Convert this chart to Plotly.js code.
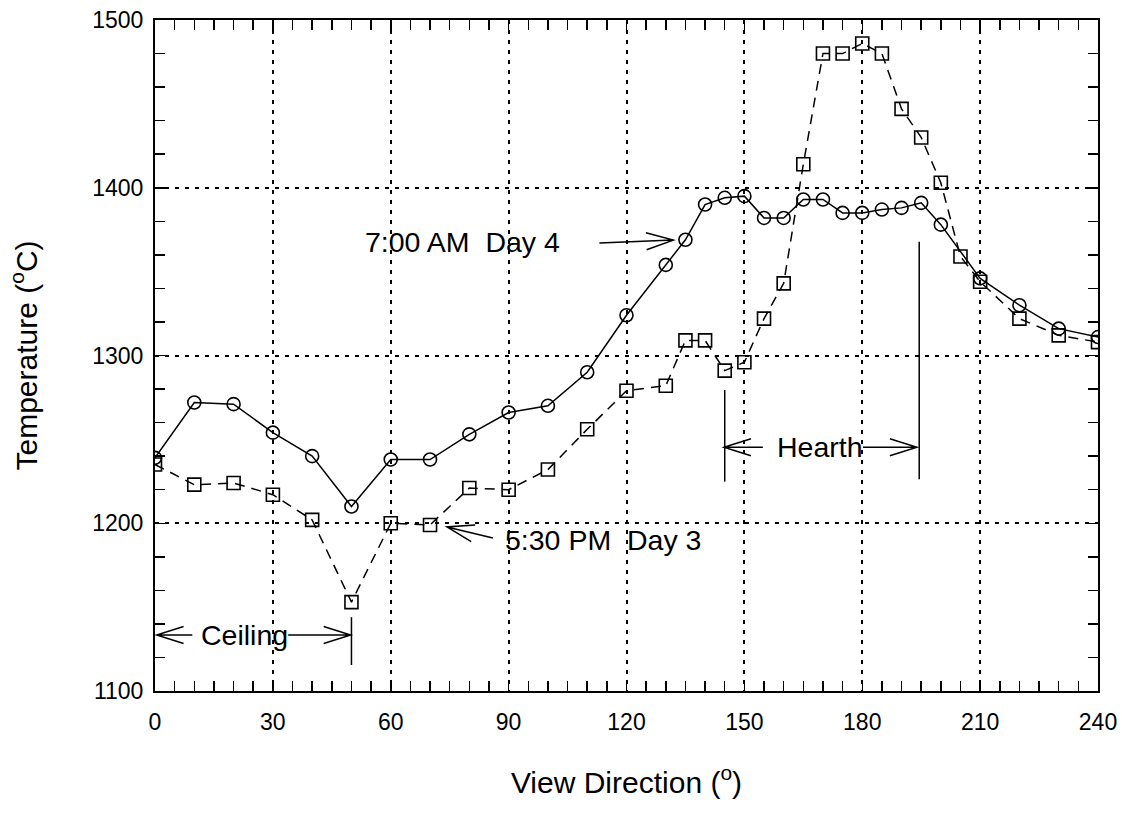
<!DOCTYPE html>
<html>
<head>
<meta charset="utf-8">
<script src="https://cdn.plot.ly/plotly-3.0.1.min.js"></script>
<style>html,body{margin:0;padding:0;background:#fff;}#chart{width:1122px;height:813px;}</style>
</head>
<body>
<div id="chart"></div>
<script>
// ---- data ----
const xDay4 = [0,10,20,30,40,50,60,70,80,90,100,110,120,130,135,140,145,150,155,160,165,170,175,180,185,190,195,200,210,220,230,240];
const tempDay4 = [1239,1272,1271,1254,1240,1210,1238,1238,1253,1266,1270,1290,1324,1354,1369,1390,1394,1395,1382,1382,1393,1393,1385,1385,1387,1388,1391,1378,1346,1330,1316,1311];
const xDay3 = [0,10,20,30,40,50,60,70,80,90,100,110,120,130,135,140,145,150,155,160,165,170,175,180,185,190,195,200,205,210,220,230,240];
const tempDay3 = [1235,1223,1224,1217,1202,1153,1200,1199,1221,1220,1232,1256,1279,1282,1309,1309,1291,1296,1322,1343,1414,1480,1480,1486,1480,1447,1430,1403,1359,1344,1322,1312,1308];
const labelDay4 = '7:00 AM\u00a0 Day 4';
const labelDay3 = '5:30 PM\u00a0 Day 3';
const xTitle = 'View Direction (<sup>o</sup>)';
const yTitle = 'Temperature (<sup>o</sup>C)';

const F = 'Liberation Sans, Arial, Helvetica, sans-serif';
const W = 1122, H = 813;
const M = {l:155, r:24, t:20, b:122};
const XR = [0,240], YR = [1100,1500];
const PW = W - M.l - M.r, PH = H - M.t - M.b;

function toPx(x,y){ return [M.l + (x-XR[0])/(XR[1]-XR[0])*PW, M.t + (YR[1]-y)/(YR[1]-YR[0])*PH]; }
function toData(px,py){ return [XR[0] + (px-M.l)/PW*(XR[1]-XR[0]), YR[1] - (py-M.t)/PH*(YR[1]-YR[0])]; }

// open "V" arrow: from tail to tip (data coords), head geometry in pixels
function arrow(x0,y0,x1,y1){
  const a = toPx(x0,y0), b = toPx(x1,y1);
  const dx = b[0]-a[0], dy = b[1]-a[1], L = Math.hypot(dx,dy);
  const ux = dx/L, uy = dy/L, nx = -uy, ny = ux;
  const hl = 27, hw = 8.5;
  const h1 = toData(b[0]-hl*ux+hw*nx, b[1]-hl*uy+hw*ny);
  const h2 = toData(b[0]-hl*ux-hw*nx, b[1]-hl*uy-hw*ny);
  const p = `M${x0},${y0} L${x1},${y1} M${h1[0]},${h1[1]} L${x1},${y1} L${h2[0]},${h2[1]}`;
  return {type:'path', xref:'x', yref:'y', path:p, line:{color:'black', width:1.5}};
}
function vbar(x,y0,y1){
  return {type:'line', xref:'x', yref:'y', x0:x, x1:x, y0:y0, y1:y1, line:{color:'black', width:1.5}};
}

const traces = [
  {x:xDay4, y:tempDay4, type:'scatter', mode:'lines+markers', name:'7:00 AM Day 4',
   line:{color:'black', width:1.5},
   marker:{symbol:'circle-open', size:13, color:'black', line:{width:1.6, color:'black'}}},
  {x:xDay3, y:tempDay3, type:'scatter', mode:'lines+markers', name:'5:30 PM Day 3',
   line:{color:'black', width:1.5, dash:'10px,7px'},
   marker:{symbol:'square-open', size:13, color:'black', line:{width:1.6, color:'black'}}}
];

const axisCommon = {
  showline:true, linecolor:'black', linewidth:2, mirror:'ticks',
  ticks:'inside', ticklen:10, tickwidth:1.5, tickcolor:'black',
  showgrid:true, gridcolor:'black', gridwidth:2, griddash:'4px,6px',
  zeroline:false, tickfont:{family:F, size:23, color:'black'}
};

const layout = {
  width:W, height:H, margin:M, showlegend:false,
  paper_bgcolor:'white', plot_bgcolor:'white',
  font:{family:F, color:'black'},
  xaxis:Object.assign({}, axisCommon, {
    range:XR, tick0:0, dtick:30, ticklabelstandoff:9,
    minor:{dtick:5, ticks:'inside', ticklen:10, tickwidth:1.5, tickcolor:'black', showgrid:false},
    title:{text:xTitle, font:{family:F, size:30, color:'black'}, standoff:38}
  }),
  yaxis:Object.assign({}, axisCommon, {
    range:YR, tick0:1100, dtick:100, ticklabelstandoff:5,
    minor:{dtick:20, ticks:'inside', ticklen:10, tickwidth:1.5, tickcolor:'black', showgrid:false},
    title:{text:yTitle, font:{family:F, size:30, color:'black'}, standoff:46}
  }),
  annotations:[
    {x:53, y:1367.5, xref:'x', yref:'y', text:labelDay4, showarrow:false, xanchor:'left', yanchor:'middle', font:{family:F, size:28.5, color:'black'}},
    {x:88.6, y:1190, xref:'x', yref:'y', text:labelDay3, showarrow:false, xanchor:'left', yanchor:'middle', font:{family:F, size:28.5, color:'black'}},
    {x:22.9, y:1133.4, xref:'x', yref:'y', text:'Ceiling', showarrow:false, xanchor:'center', yanchor:'middle', font:{family:F, size:28.5, color:'black'}},
    {x:169.3, y:1245.3, xref:'x', yref:'y', text:'Hearth', showarrow:false, xanchor:'center', yanchor:'middle', font:{family:F, size:28.5, color:'black'}}
  ],
  shapes:[
    arrow(113.1,1367,131.9,1368.8),
    arrow(86.0,1191.2,74.3,1197.8),
    arrow(9.5,1133.4,0.4,1133.4),
    arrow(33.9,1133.4,49.8,1133.4),
    vbar(50,1144,1115.5),
    arrow(154.7,1245.3,144.8,1245.3),
    arrow(180.2,1245.3,193.9,1245.3),
    vbar(145,1279.4,1224.8),
    vbar(194.5,1367.8,1226.2)
  ]
};

Plotly.newPlot('chart', traces, layout, {staticPlot:true, displayModeBar:false});
</script>
</body>
</html>
